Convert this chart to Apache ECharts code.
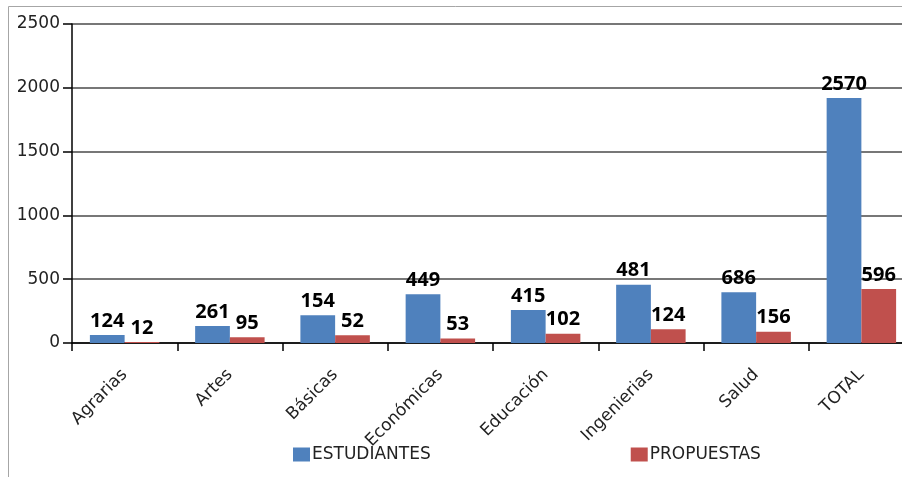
<!DOCTYPE html>
<html><head><meta charset="utf-8">
<script src="https://cdn.jsdelivr.net/npm/echarts@6/dist/echarts.min.js"></script>
<style>html,body{margin:0;padding:0;background:#fff}#c{width:902px;height:477px}</style>
</head><body><div id="c"></div>
<script>
var categories = ['Agrarias','Artes','Básicas','Económicas','Educación','Ingenierias','Salud','TOTAL'];
var estudiantesBars = [63, 133, 217, 382, 259, 457, 397, 1920];
var propuestasBars = [8, 45, 60, 35, 73, 107, 89, 423];
var estudiantesLabels = ['124','261','154','449','415','481','686','2570'];
var propuestasLabels = ['12','95','52','53','102','124','156','596'];
var yTicks = [0, 500, 1000, 1500, 2000, 2500];

var chart = echarts.init(document.getElementById('c'));
var labelStyle = {show:true, position:'top', distance:4, color:'#000', fontFamily:'Noto Sans', fontWeight:'bold', fontSize:20};
chart.setOption({
  animation:false,
  backgroundColor:'#fff',
  graphic:[{type:'polyline', shape:{points:[[8.5,477],[8.5,6.5],[902,6.5]]}, style:{stroke:'#a6a6a6', lineWidth:1, fill:null}}],
  grid:{left:72, top:24, width:842, height:319, outerBoundsMode:'none', containLabel:false},
  legend:{left:293, top:446, padding:0, itemWidth:17, itemHeight:14, itemGap:200, icon:'rect',
    textStyle:{fontFamily:'DejaVu Sans', fontSize:17, color:'#222', padding:[0,0,0,-3]},
    data:['ESTUDIANTES','PROPUESTAS']},
  xAxis:{type:'category', data:categories,
    axisLine:{lineStyle:{color:'#000', width:1.5}},
    axisTick:{show:true, length:8, lineStyle:{color:'#000', width:1.5}},
    axisLabel:{rotate:45, fontFamily:'DejaVu Sans', fontSize:17, color:'#222', margin:29, interval:0}},
  yAxis:{type:'value', min:yTicks[0], max:yTicks[yTicks.length-1], interval:500,
    axisLine:{show:true, lineStyle:{color:'#000', width:1.5}},
    axisTick:{show:true, length:9, lineStyle:{color:'#000', width:1.5}},
    axisLabel:{fontFamily:'DejaVu Sans', fontSize:17, color:'#222', margin:12,
      formatter:function(v){return yTicks.indexOf(v)>=0 ? String(v) : '';}},
    splitLine:{lineStyle:{color:'#777', width:1.8}}},
  series:[
    {name:'ESTUDIANTES', type:'bar', data:estudiantesBars, barGap:'0%', barCategoryGap:'34%',
      itemStyle:{color:'#4F81BD'},
      label:Object.assign({}, labelStyle, {formatter:function(p){return estudiantesLabels[p.dataIndex];}})},
    {name:'PROPUESTAS', type:'bar', data:propuestasBars, barGap:'0%', barCategoryGap:'34%',
      itemStyle:{color:'#C0504D'},
      label:Object.assign({}, labelStyle, {formatter:function(p){return propuestasLabels[p.dataIndex];}})}
  ]
});
</script></body></html>
